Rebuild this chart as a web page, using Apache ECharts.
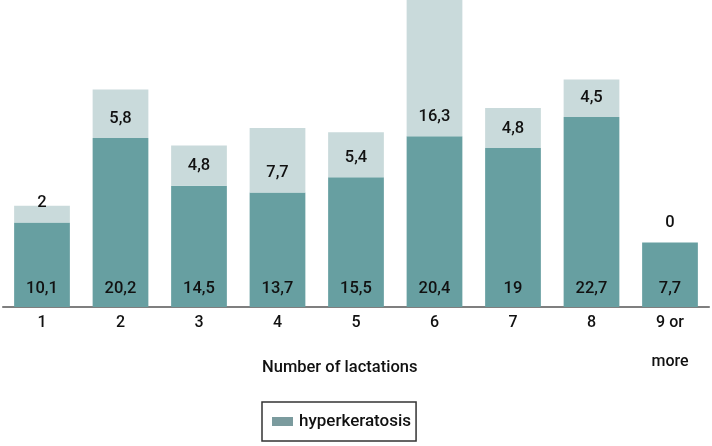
<!DOCTYPE html>
<html>
<head>
<meta charset="utf-8">
<script src="https://cdn.jsdelivr.net/npm/echarts@6/dist/echarts.min.js"></script>
<style>html,body{margin:0;padding:0;background:#fff}#c{width:712px;height:446px}</style>
</head>
<body>
<div id="c"></div>
<script>
const categories = ['1','2','3','4','5','6','7','8','9 or\nmore'];
const hyperkeratosis = [10.1,20.2,14.5,13.7,15.5,20.4,19,22.7,7.7];
const other = [2,5.8,4.8,7.7,5.4,16.3,4.8,4.5,0];
const axisName = 'Number of lactations';

const fmt = p => String(p.value).replace('.', ',');
const chart = echarts.init(document.getElementById('c'), null, {renderer:'canvas'});
chart.setOption({
  animation:false,
  textStyle:{fontFamily:'Roboto'},
  grid:{left:2.75, right:2.75, top:0, bottom:139, containLabel:false},
  xAxis:{
    type:'category', data:categories,
    axisLine:{lineStyle:{color:'#555', width:1.5}},
    axisTick:{show:false},
    axisLabel:{
      interval:0, margin:6, color:'#111', fontSize:16, fontWeight:500, fontFamily:'Roboto', lineHeight:20,
      formatter: v => v.indexOf('\n')>=0 ? v.split('\n')[0] + '\n{m|' + v.split('\n')[1] + '}' : v,
      rich:{m:{fontSize:16, fontWeight:500, fontFamily:'Roboto', color:'#111', lineHeight:58}}
    }
  },
  yAxis:{type:'value', min:0, max:36.7, show:false, splitLine:{show:false}},
  legend:{
    data:[{name:'hyperkeratosis', itemStyle:{color:'#7b9b9e'}}],
    left:262, top:402,
    borderColor:'#333', borderWidth:1.5, borderRadius:0,
    padding:[11,5,11,10],
    itemWidth:21, itemHeight:9, itemGap:6,
    icon:'rect',
    textStyle:{fontSize:17, fontWeight:500, color:'#111', fontFamily:'Roboto', padding:[0,0,0,1]}
  },
  graphic:[{type:'text', left:262, top:359, style:{text:axisName, font:'500 16.5px Roboto', fill:'#111'}}],
  series:[
    {name:'hyperkeratosis', type:'bar', stack:'a', data:hyperkeratosis, barCategoryGap:'29%',
     itemStyle:{color:'#679fa1'},
     label:{show:true, position:'insideBottom', distance:10, formatter:fmt, fontSize:16.5, fontWeight:500, color:'#111', fontFamily:'Roboto'}},
    {name:'other', type:'bar', stack:'a', data:other, barCategoryGap:'29%',
     itemStyle:{color:'#c9dadb'},
     label:{show:true, position:'insideBottom', distance:11, formatter:fmt, fontSize:16.5, fontWeight:500, color:'#111', fontFamily:'Roboto'}}
  ]
});
</script>
</body>
</html>
